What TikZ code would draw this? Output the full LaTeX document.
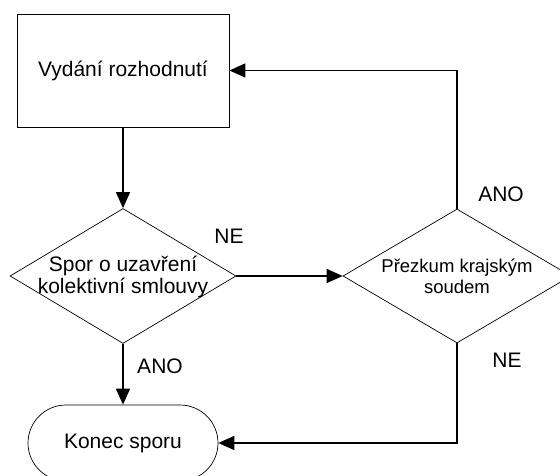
\documentclass[tikz,border=0pt]{standalone}
\usepackage{fontspec}
\setmainfont{Liberation Sans}
\usetikzlibrary{shapes.geometric,shapes.misc,arrows.meta}
\begin{document}
\begin{tikzpicture}[x=1pt,y=1pt,
  shapeline/.style={draw=black,line width=0.7pt,inner sep=0pt},
  conn/.style={draw=black,line width=1.5pt,-{Triangle[length=16pt,width=14pt]}},
  maintext/.style={font=\fontsize{21}{22}\selectfont,align=center,inner sep=0pt},
  smalltext/.style={font=\fontsize{18.5}{21}\selectfont,align=center,inner sep=0pt}]
\useasboundingbox (0,0) rectangle (560,476);
\clip (0,0) rectangle (560,476);
\node[shapeline,rectangle,minimum width=212pt,minimum height=113pt,maintext] (r) at (123,405.5) {Vydání rozhodnutí};
\node[shapeline,diamond,minimum width=226pt,minimum height=135pt] (d1) at (123,200) {};
\node[maintext] (t1) at (123,199) {Spor o uzavření\\kolektivní smlouvy};
\node[shapeline,diamond,minimum width=228pt,minimum height=134pt] (d2) at (457,200) {};
\node[smalltext] (t2) at (457,200) {Přezkum krajským\\soudem};
\node[shapeline,rounded rectangle,minimum width=190pt,minimum height=76pt,maintext] (e) at (123,33) {Konec sporu};
\draw[conn] (r.south) -- (d1.north);
\draw[conn] (d1.south) -- (e.north);
\draw[conn] (d1.east) -- (d2.west);
\draw[conn] (d2.north) |- (r.east);
\draw[conn] (d2.south) |- (e.east);
\node[maintext] (l1) at (229,240) {NE};
\node[maintext] (l2) at (501,282) {ANO};
\node[maintext] (l3) at (507,116) {NE};
\node[maintext] (l4) at (160,110) {ANO};
\end{tikzpicture}
\end{document}
